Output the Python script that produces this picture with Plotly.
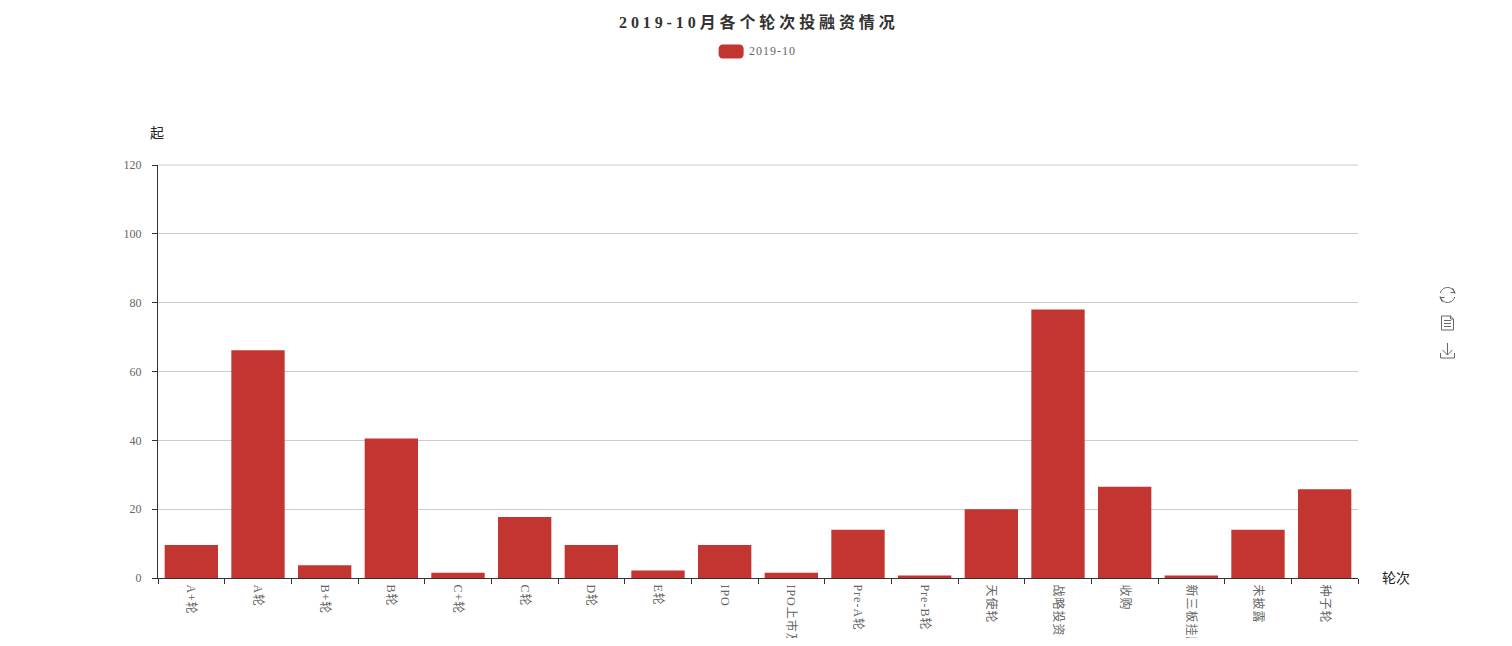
import math

import plotly.graph_objects as go

# chart data
categories = ["A+轮", "A轮", "B+轮", "B轮", "C+轮", "C轮", "D轮", "E轮", "IPO", "IPO上市及以后",
              "Pre-A轮", "Pre-B轮", "天使轮", "战略投资", "收购", "新三板挂牌", "未披露", "种子轮"]
values = [9.6, 66.2, 3.7, 40.5, 1.5, 17.7, 9.6, 2.2, 9.6, 1.5,
          14.0, 0.7, 20.0, 78.0, 26.5, 0.7, 14.0, 25.8]
series_name = "2019-10"
title_text = "2019-10月各个轮次投融资情况"
y_ticks = [0, 20, 40, 60, 80, 100, 120]

RED = "#c23531"
FONT = "Liberation Serif, Noto Sans CJK SC"

# page has an 8px body margin, figure is cut off where the labels get clipped
PAGE_OFF = 8
W, H = 1496, 630
M_L, M_R, M_T, M_B = 150.25, 145.5, 157, 60


def fx(x):
    return (x - PAGE_OFF - M_L) / (W - M_L - M_R)


def fy(y):
    return 1 - (y - PAGE_OFF - M_T) / (H - M_T - M_B)


def spaced(text, px):
    return f'<span style="letter-spacing:{px}px">{text}</span>'


def polyline(points, close=False):
    s = "M" + " L".join(f"{fx(x):.5f},{fy(y):.5f}" for x, y in points)
    return s + (" Z" if close else "")


def arc(cx, cy, r, a0, a1, n=14):
    return [(cx + r * math.cos(math.radians(a0 + (a1 - a0) * i / n)),
             cy + r * math.sin(math.radians(a0 + (a1 - a0) * i / n))) for i in range(n + 1)]


def rounded_rect(x0, y0, x1, y1, r):
    pts = arc(x1 - r, y0 + r, r, -90, 0, 4) + arc(x1 - r, y1 - r, r, 0, 90, 4)
    pts += arc(x0 + r, y1 - r, r, 90, 180, 4) + arc(x0 + r, y0 + r, r, 180, 270, 4)
    return polyline(pts, close=True)


fig = go.Figure(go.Bar(x=categories, y=values, name=series_name, marker_color=RED, marker_line_width=0))

# toolbox icons on the right
icon_paths = [
    polyline(arc(1448, 295, 7.5, -165, -10)),
    polyline(arc(1448, 295, 7.5, 15, 170)),
    polyline([(1453, 288), (1455.5, 292.5), (1451, 292.5)]),
    polyline([(1443, 302), (1440.5, 297.5), (1445, 297.5)]),
    polyline([(1442, 316), (1451, 316), (1454, 319), (1454, 330), (1442, 330)], close=True),
    polyline([(1451, 316), (1451, 319), (1454, 319)]),
    polyline([(1444.5, 320.5), (1451.5, 320.5)]),
    polyline([(1444.5, 323.5), (1451.5, 323.5)]),
    polyline([(1444.5, 326.5), (1451.5, 326.5)]),
    polyline([(1448, 343), (1448, 355)]),
    polyline([(1443, 350), (1448, 355), (1453, 350)]),
    polyline([(1441, 353), (1441, 358), (1455, 358), (1455, 353)]),
]
shapes = [dict(type="path", xref="paper", yref="paper", path=p, line=dict(color="#666", width=1), layer="above")
          for p in icon_paths]
# legend key
shapes.append(dict(type="path", xref="paper", yref="paper", path=rounded_rect(719, 44.5, 744, 58.5, 4),
                   fillcolor=RED, line=dict(width=0)))
# plotly drops the gridline that sits on the top edge, so put it back (paper ref so it isn't clipped)
shapes.append(dict(type="line", xref="paper", yref="paper", x0=0, x1=1, y0=1, y1=1,
                   line=dict(color="#ccc", width=1), layer="below"))

annotations = [
    dict(text=spaced(title_text, 3.9), x=fx(759), y=fy(22), xref="paper", yref="paper", showarrow=False,
         xanchor="center", yanchor="middle", font=dict(size=16, color="#333", family=FONT, weight="bold")),
    dict(text=spaced(series_name, 1), x=fx(747.5), y=fy(51), xref="paper", yref="paper", showarrow=False,
         xanchor="left", yanchor="middle", font=dict(size=12, color="#666", family=FONT)),
    dict(text="起", x=fx(157.5), y=fy(133), xref="paper", yref="paper", showarrow=False,
         xanchor="center", yanchor="middle", font=dict(size=14, color="#222", family=FONT)),
    dict(text="轮次", x=fx(1397), y=fy(578), xref="paper", yref="paper", showarrow=False,
         xanchor="center", yanchor="middle", font=dict(size=14, color="#222", family=FONT)),
]

fig.update_layout(
    width=W,
    height=H,
    margin=dict(l=M_L, r=M_R, t=M_T, b=M_B, pad=0),
    paper_bgcolor="white",
    plot_bgcolor="white",
    showlegend=False,
    bargap=0.2,
    font=dict(family=FONT, size=12, color="#666"),
    shapes=shapes,
    annotations=annotations,
)
fig.update_xaxes(
    type="category",
    tickmode="array",
    tickvals=categories,
    ticktext=[spaced(c, 1) for c in categories],
    tickangle=90,
    tickson="boundaries",
    ticks="outside",
    ticklen=5,
    tickcolor="#333",
    showline=True,
    linecolor="#333",
    showgrid=False,
    automargin=False,
    ticklabelstandoff=3,
    tickfont=dict(size=12, color="#666", family=FONT),
)
fig.update_yaxes(
    range=[0, 120],
    tickvals=y_ticks,
    ticks="outside",
    ticklen=5,
    tickcolor="#333",
    showline=True,
    linecolor="#333",
    gridcolor="#ccc",
    gridwidth=1,
    zeroline=False,
    automargin=False,
    ticklabelstandoff=8,
    tickfont=dict(size=12, color="#666", family=FONT),
)

fig.write_html("out.html")
